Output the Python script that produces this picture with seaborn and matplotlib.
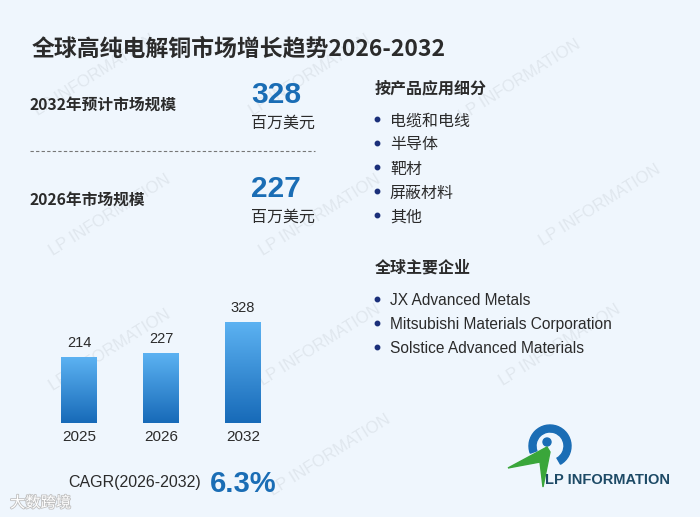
import matplotlib
matplotlib.use("Agg")
import matplotlib.pyplot as plt
import matplotlib.patches as mpatches
import matplotlib.patheffects as pe
from matplotlib.colors import LinearSegmentedColormap
import seaborn as sns
import numpy as np
import pandas as pd

years = ["2025", "2026", "2032"]
market_size = [214, 227, 328]
segments = ["电缆和电线", "半导体", "靶材", "屏蔽材料", "其他"]
companies = ["JX Advanced Metals", "Mitsubishi Materials Corporation", "Solstice Advanced Materials"]
title = "全球高纯电解铜市场增长趋势2026-2032"
cagr_label = "CAGR(2026-2032)"
cagr_value = "6.3%"

BG = "#eff6fd"
BLUE = "#1a6db5"
DARK = "#2b2b2b"
LATIN = ["Liberation Sans", "DejaVu Sans"]
W, H = 700, 517

sns.set_theme(style="white")
plt.rcParams["font.family"] = ["Noto Sans CJK SC", "DejaVu Sans"]

fig = plt.figure(figsize=(7, 5.17), dpi=100, facecolor=BG)

# overlay in pixel coords for decorations
deco = fig.add_axes([0, 0, 1, 1])
deco.set_xlim(0, W)
deco.set_ylim(H, 0)
deco.axis("off")
deco.set_zorder(0)


def put(x, y, s, **kw):
    kw.setdefault("va", "center_baseline")
    deco.text(x, y, s, **kw)


# faint watermarks
for wx, wy in [(95, 75), (310, 75), (520, 80), (110, 215), (320, 215), (600, 205),
               (110, 350), (320, 345), (560, 345), (330, 455)]:
    deco.text(wx, wy, "LP INFORMATION", rotation=32, fontsize=12, color="#aab1b8",
              alpha=0.22, ha="center", va="center", family=LATIN)

# title
put(32, 47, title, fontsize=16.5, fontweight="bold", color=DARK)

# key figures
put(30, 103, "2032年预计市场规模", fontsize=11.3, fontweight="bold", color=DARK)
put(251, 92, str(market_size[2]), fontsize=21.5, fontweight="bold", color=BLUE, family=LATIN)
put(251, 121, "百万美元", fontsize=11.5, color=DARK)
deco.plot([30, 315], [151, 151], color="#777777", lw=0.8, ls=(0, (3, 2)))
put(30, 198, "2026年市场规模", fontsize=11.3, fontweight="bold", color=DARK)
put(251, 186, str(market_size[1]), fontsize=21.5, fontweight="bold", color=BLUE, family=LATIN)
put(251, 215, "百万美元", fontsize=11.5, color=DARK)

# right column
put(375, 87, "按产品应用细分", fontsize=11.5, fontweight="bold", color=DARK)
for i, seg in enumerate(segments):
    yy = 119 + i * 24
    deco.plot(377, yy, "o", ms=3.2, color="#1a2f7a")
    put(390, yy, seg, fontsize=11.5, color=DARK)

put(375, 266, "全球主要企业", fontsize=11.5, fontweight="bold", color=DARK)
for i, comp in enumerate(companies):
    yy = 299 + i * 24
    deco.plot(377, yy, "o", ms=3.2, color="#1a2f7a")
    put(390, yy, comp, fontsize=11.2, color=DARK, family=LATIN)

# bar chart
ax = fig.add_axes([38 / W, 1 - 423 / H, 246 / W, 123 / H])
ax.set_facecolor("none")
df = pd.DataFrame({"year": years, "size": market_size})
sns.barplot(data=df, x="year", y="size", color="#3b8fd8", width=0.43, ax=ax)
ax.axis("off")

cmap = LinearSegmentedColormap.from_list("bar", ["#176ab8", "#5cb2f2"])
grad = np.linspace(0, 1, 256).reshape(-1, 1)
for p, v, yr in zip(ax.patches, market_size, years):
    x0, w, h = p.get_x(), p.get_width(), p.get_height()
    im = ax.imshow(grad, cmap=cmap, origin="lower", aspect="auto",
                   extent=[x0, x0 + w, 0, h], zorder=3)
    im.set_clip_path(p)
    p.set_edgecolor("none")
    ax.text(x0 + w / 2, h + 45, str(v), ha="center", va="center", fontsize=10.5,
            color=DARK, family=LATIN)
    ax.text(x0 + w / 2, -45, yr, ha="center", va="center", fontsize=11,
            color=DARK, family=LATIN, clip_on=False)
ax.set_xlim(-0.5, 2.5)
ax.set_ylim(0, 400)

# CAGR
put(68, 481, cagr_label, fontsize=11.5, color=DARK, family=LATIN)
put(210, 481, cagr_value, fontsize=21, fontweight="bold", color=BLUE, family=LATIN)

# bottom-left source mark
put(10, 501, "大数跨境", fontsize=11, color="#ffffff",
    path_effects=[pe.withStroke(linewidth=1.2, foreground="#bfbfbf")])

# logo
deco.add_patch(mpatches.Wedge((550, 446), 21, 160, 420, width=7, color="#1a6db5"))
deco.add_patch(mpatches.Circle((547, 442), 4, color="#1a6db5"))
deco.add_patch(mpatches.Polygon([[508, 468], [547, 447], [550, 452], [543, 487], [540, 462]],
                                closed=True, color="#3aa63a"))
put(545, 478, "LP INFORMATION", fontsize=10.5, fontweight="bold", color="#1d4a66", family=LATIN)

fig.savefig("out.png", dpi=100, facecolor=BG)
